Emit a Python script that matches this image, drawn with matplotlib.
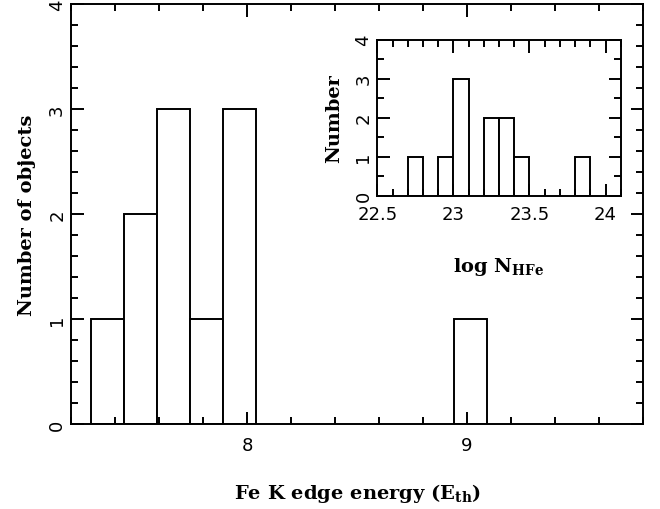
import matplotlib
matplotlib.use("Agg")
import matplotlib.pyplot as plt
from matplotlib.ticker import MultipleLocator

# main histogram: Fe K edge energy
e_start = 7.29
e_width = 0.15
e_counts = [1, 2, 3, 1, 3, 0, 0, 0, 0, 0, 0, 1]

# inset histogram: log N_HFe
n_start = 22.7
n_width = 0.1
n_counts = [1, 0, 1, 3, 0, 2, 2, 1, 0, 0, 0, 1]

main_xlabel = r"Fe K edge energy (E$_{\mathbf{th}}$)"
main_ylabel = "Number of objects"
inset_xlabel = r"log N$_{\mathbf{HFe}}$"
inset_ylabel = "Number"

plt.rcParams['mathtext.fontset'] = 'dejavuserif'
lab_font = dict(family='DejaVu Serif', fontsize=14, fontweight='bold')
lw = 1.4


def style(ax, xmaj, xmin, ymaj, ymin, tsize):
    ax.xaxis.set_major_locator(MultipleLocator(xmaj))
    ax.xaxis.set_minor_locator(MultipleLocator(xmin))
    ax.yaxis.set_major_locator(MultipleLocator(ymaj))
    ax.yaxis.set_minor_locator(MultipleLocator(ymin))
    ax.tick_params(which='both', direction='in', top=True, right=True,
                   width=lw, labelsize=tsize)
    ax.tick_params(which='major', length=9)
    ax.tick_params(which='minor', length=5)
    for s in ax.spines.values():
        s.set_linewidth(lw)
    for t in ax.get_yticklabels():
        t.set_rotation(90)
        t.set_va('center')


def draw_hist(ax, start, width, counts):
    lefts = [start + i * width for i, c in enumerate(counts) if c > 0]
    heights = [c for c in counts if c > 0]
    ax.bar(lefts, heights, width=width, align='edge', facecolor='white',
           edgecolor='black', linewidth=lw)


fig = plt.figure(figsize=(6.6, 5.1), dpi=100)

ax = fig.add_axes([0.1076, 0.1667, 0.8667, 0.8235])
draw_hist(ax, e_start, e_width, e_counts)
ax.set_xlim(7.2, 9.8)
ax.set_ylim(0, 4)
style(ax, 1, 0.2, 1, 0.2, 13)
ax.tick_params(axis='x', which='major', pad=9)
ax.set_xlabel(main_xlabel, **lab_font)
ax.set_ylabel(main_ylabel, **lab_font)
ax.xaxis.set_label_coords(0.5, -0.135)
ax.yaxis.set_label_coords(-0.062, 0.5)

ins = fig.add_axes([0.5717, 0.6143, 0.3688, 0.3059])
draw_hist(ins, n_start, n_width, n_counts)
ins.set_xlim(22.5, 24.1)
ins.set_ylim(0, 4)
style(ins, 0.5, 0.1, 1, 0.5, 13)
ins.set_xticks([22.5, 23, 23.5, 24])
ins.set_xticklabels(['22.5', '23', '23.5', '24'])
ins.tick_params(axis='x', which='major', pad=7)
ins.set_xlabel(inset_xlabel, **lab_font)
ins.set_ylabel(inset_ylabel, **lab_font)
ins.xaxis.set_label_coords(0.5, -0.38)
ins.yaxis.set_label_coords(-0.14, 0.5)

fig.savefig("out.png", dpi=100)
